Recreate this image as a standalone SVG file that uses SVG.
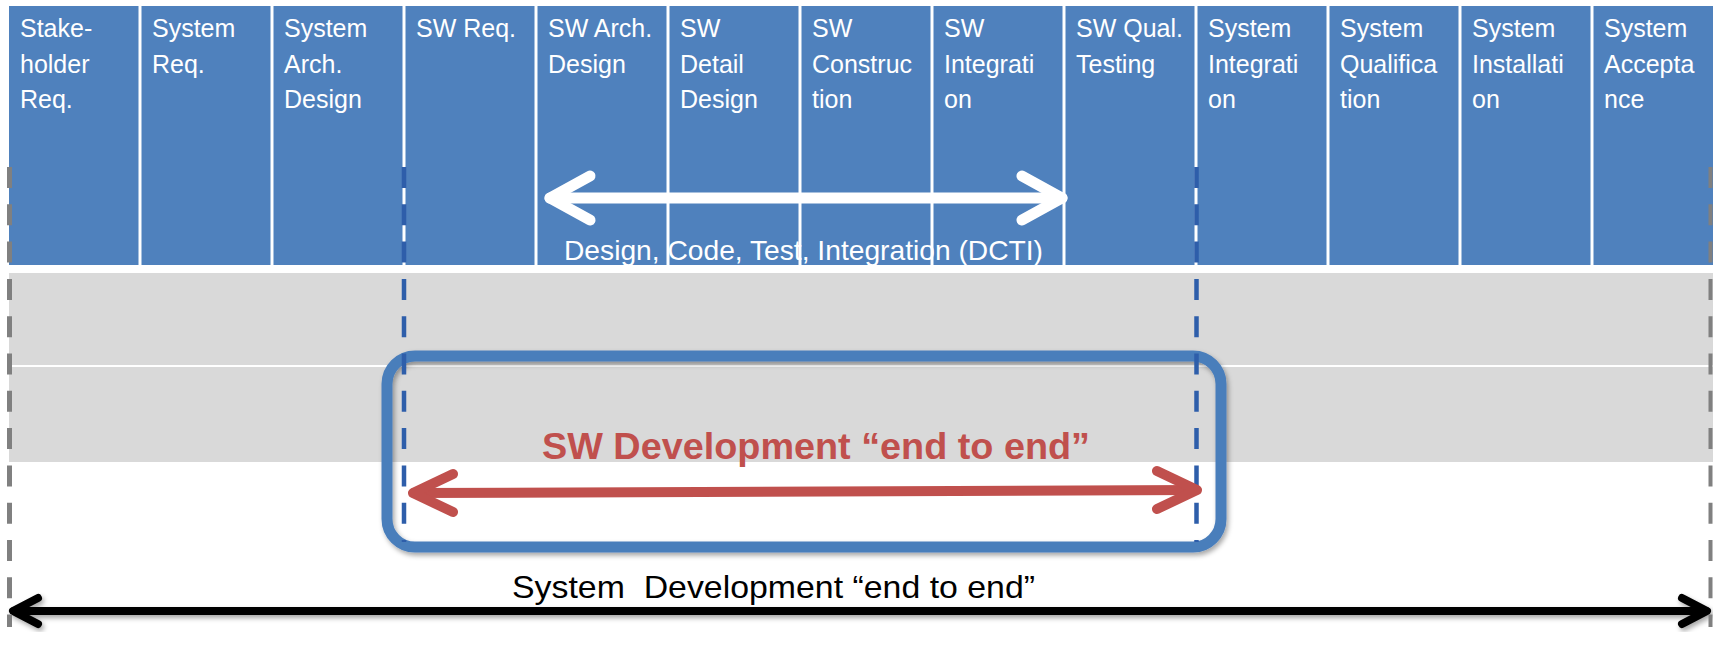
<svg xmlns="http://www.w3.org/2000/svg" width="1713" height="657" viewBox="0 0 1713 657">
<defs>
<style>
.col{fill:#4F81BD}
.lbl{font-family:"Liberation Sans",Arial,sans-serif;font-size:25px;fill:#FFFFFF}
.band{fill:#D9D9D9}
.arw{fill:none;stroke-linecap:round;stroke-linejoin:round}
</style>
<filter id="sh" x="-5%" y="-20%" width="110%" height="150%">
<feDropShadow dx="2" dy="3" stdDeviation="2.5" flood-color="#000000" flood-opacity="0.35"/>
</filter>
</defs>
<rect width="1713" height="657" fill="#FFFFFF"/>
<g id="bands">
<rect class="band" x="9" y="273" width="1704" height="92"/>
<rect class="band" x="9" y="367" width="1704" height="95"/>
</g>
<g id="col1"><rect class="col" x="9" y="6" width="129.5" height="259"/><text class="lbl" x="20" y="37">Stake-<tspan x="20" dy="35.5">holder</tspan><tspan x="20" dy="35.5">Req.</tspan></text></g>
<g id="col2"><rect class="col" x="141.5" y="6" width="129" height="259"/><text class="lbl" x="152" y="37">System<tspan x="152" dy="35.5">Req.</tspan></text></g>
<g id="col3"><rect class="col" x="273.5" y="6" width="129" height="259"/><text class="lbl" x="284" y="37">System<tspan x="284" dy="35.5">Arch.</tspan><tspan x="284" dy="35.5">Design</tspan></text></g>
<g id="col4"><rect class="col" x="405.5" y="6" width="129" height="259"/><text class="lbl" x="416" y="37">SW Req.</text></g>
<g id="col5"><rect class="col" x="537.5" y="6" width="129" height="259"/><text class="lbl" x="548" y="37">SW Arch.<tspan x="548" dy="35.5">Design</tspan></text></g>
<g id="col6"><rect class="col" x="669.5" y="6" width="129" height="259"/><text class="lbl" x="680" y="37">SW<tspan x="680" dy="35.5">Detail</tspan><tspan x="680" dy="35.5">Design</tspan></text></g>
<g id="col7"><rect class="col" x="801.5" y="6" width="129" height="259"/><text class="lbl" x="812" y="37">SW<tspan x="812" dy="35.5">Construc</tspan><tspan x="812" dy="35.5">tion</tspan></text></g>
<g id="col8"><rect class="col" x="933.5" y="6" width="129" height="259"/><text class="lbl" x="944" y="37">SW<tspan x="944" dy="35.5">Integrati</tspan><tspan x="944" dy="35.5">on</tspan></text></g>
<g id="col9"><rect class="col" x="1065.5" y="6" width="129" height="259"/><text class="lbl" x="1076" y="37">SW Qual.<tspan x="1076" dy="35.5">Testing</tspan></text></g>
<g id="col10"><rect class="col" x="1197.5" y="6" width="129" height="259"/><text class="lbl" x="1208" y="37">System<tspan x="1208" dy="35.5">Integrati</tspan><tspan x="1208" dy="35.5">on</tspan></text></g>
<g id="col11"><rect class="col" x="1329.5" y="6" width="129" height="259"/><text class="lbl" x="1340" y="37">System<tspan x="1340" dy="35.5">Qualifica</tspan><tspan x="1340" dy="35.5">tion</tspan></text></g>
<g id="col12"><rect class="col" x="1461.5" y="6" width="129" height="259"/><text class="lbl" x="1472" y="37">System<tspan x="1472" dy="35.5">Installati</tspan><tspan x="1472" dy="35.5">on</tspan></text></g>
<g id="col13"><rect class="col" x="1593.5" y="6" width="119.5" height="259"/><text class="lbl" x="1604" y="37">System<tspan x="1604" dy="35.5">Accepta</tspan><tspan x="1604" dy="35.5">nce</tspan></text></g>
<g id="dcti">
<text x="564" y="260" font-family="'Liberation Sans',Arial,sans-serif" font-size="28" fill="#FFFFFF" textLength="479" lengthAdjust="spacingAndGlyphs">Design, Code, Test, Integration (DCTI)</text>
</g>
<g id="sw-box">
<rect x="387" y="356" width="834" height="191" rx="28" ry="28" fill="none" stroke="#4A7EBB" stroke-width="11" filter="url(#sh)"/>
</g>
<g id="sw-label">
<text x="542" y="459" font-family="'Liberation Sans',Arial,sans-serif" font-size="37" font-weight="bold" fill="#C0504D" textLength="548" lengthAdjust="spacingAndGlyphs">SW Development “end to end”</text>
</g>
<g id="sys-label">
<text x="512" y="598" font-family="'Liberation Sans',Arial,sans-serif" font-size="32" fill="#000000" textLength="523" lengthAdjust="spacingAndGlyphs" xml:space="preserve">System  Development “end to end”</text>
</g>
<g id="connectors">
<g id="dcti-arrow" class="arw" stroke="#FFFFFF" stroke-width="11">
<line x1="550" y1="198" x2="1062" y2="198"/>
<polyline points="590,176 550,198 590,220"/>
<polyline points="1022,176 1062,198 1022,220"/>
</g>
<line x1="404" y1="167" x2="404" y2="542" stroke="#2E5EAA" stroke-width="4.5" stroke-dasharray="21 16.3"/>
<line x1="1196.5" y1="167" x2="1196.5" y2="542" stroke="#2E5EAA" stroke-width="4.5" stroke-dasharray="21 16.3"/>
<g id="sw-arrow" class="arw" stroke="#C0504D" stroke-width="10">
<line x1="414" y1="493" x2="1196" y2="490"/>
<polyline points="453,474 413,493 453,512"/>
<polyline points="1157,471 1197,490 1157,509"/>
</g>
<g id="sys-arrow" class="arw" stroke="#000000" stroke-width="8" filter="url(#sh)">
<line x1="14" y1="611" x2="1706" y2="611"/>
<polyline points="38,598 13,611 38,624"/>
<polyline points="1682,598 1707,611 1682,624"/>
</g>
<line x1="9.5" y1="167" x2="9.5" y2="627" stroke="#808080" stroke-width="5" stroke-dasharray="21 16.3"/>
<line x1="1710.5" y1="167" x2="1710.5" y2="627" stroke="#808080" stroke-width="4" stroke-dasharray="21 16.3"/>
</g>
</svg>
